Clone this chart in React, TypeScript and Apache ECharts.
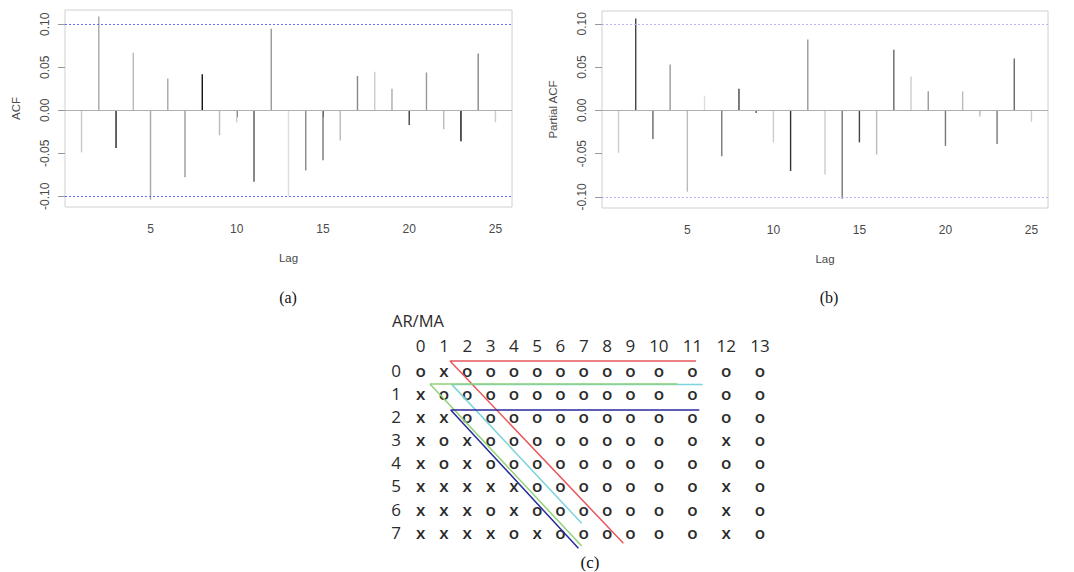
import React, { useEffect, useRef } from "react";
import * as echarts from "echarts";

// ---------- data: (a) ACF and (b) PACF ----------
const lags = [1, 2, 3, 4, 5, 6, 7, 8, 9, 10, 11, 12, 13, 14, 15, 16, 17, 18, 19, 20, 21, 22, 23, 24, 25];
const acfValues = [
  -0.049, 0.109, -0.044, 0.067, -0.104, 0.037, -0.078, 0.042, -0.029, -0.014, -0.083, 0.095, -0.1,
  -0.07, -0.058, -0.035, 0.04, 0.045, 0.025, -0.017, 0.044, -0.022, -0.036, 0.066, -0.014,
];
const pacfValues = [
  -0.049, 0.106, -0.033, 0.053, -0.094, 0.017, -0.053, 0.025, -0.003, -0.037, -0.07, 0.082, -0.074,
  -0.102, -0.037, -0.051, 0.07, 0.039, 0.022, -0.041, 0.022, -0.007, -0.039, 0.06, -0.013,
];
const confLimit = 0.1045;
const yTicks = [-0.1, -0.05, 0, 0.05, 0.1];
const lagTicks = [5, 10, 15, 20, 25];

// ---------- data: (c) EACF table ----------
const maCols = ["0", "1", "2", "3", "4", "5", "6", "7", "8", "9", "10", "11", "12", "13"];
const arRows = ["0", "1", "2", "3", "4", "5", "6", "7"];
const eacfRows = [
  "oxoooooooooooo",
  "xooooooooooooo",
  "xxoooooooooooo",
  "xoxoooooooooxo",
  "xoxooooooooooo",
  "xxxxxoooooooxo",
  "xxxoxoooooooxo",
  "xxxxoxooooooxo",
];
// pattern outlines in (fractional MA column index, fractional AR row index)
const cyanLine = [[11.3, 0.62], [1.33, 0.62], [6.91, 6.61]];
const redLine = [[11.1, -0.39], [1.26, -0.39], [8.7, 7.47]];
const greenLine = [[10.55, 0.6], [0.4, 0.6], [6.91, 7.59]];
const blueLine = [[11.2, 1.72], [1.29, 1.72], [6.77, 7.69]];

// ---------- styles ----------
const acfShades = [
  "#c8c8c8", "#a8a8a8", "#222222", "#b8b8b8", "#a8a8a8", "#a8a8a8", "#999999", "#111111", "#bbbbbb",
  "#cccccc", "#555555", "#999999", "#dddddd", "#888888", "#777777", "#bbbbbb", "#888888", "#cccccc",
  "#aaaaaa", "#444444", "#999999", "#bbbbbb", "#111111", "#888888", "#cccccc",
];
const pacfShades = [
  "#cccccc", "#444444", "#666666", "#999999", "#bbbbbb", "#dddddd", "#777777", "#444444", "#555555",
  "#cccccc", "#333333", "#999999", "#cccccc", "#777777", "#444444", "#bbbbbb", "#666666", "#cccccc",
  "#999999", "#777777", "#bbbbbb", "#bbbbbb", "#777777", "#666666", "#cccccc",
];
const lineSets = [
  { pts: cyanLine, color: "#7fd3dc" },
  { pts: redLine, color: "#e8575c" },
  { pts: greenLine, color: "#8fd27a" },
  { pts: blueLine, color: "#2a2a9c" },
];

const RFONT = "Liberation Sans";
const RCOL = "#4a4a4a";
const TFONT = "Open Sans";
const TCOL = "#2b2b2b";

// column positions from label widths (char units): gap between labels
const colX: number[] = [];
maCols.forEach((c, i) => {
  if (i === 0) colX.push(0);
  else colX.push(colX[i - 1] + (maCols[i - 1].length + c.length) / 2 + 1.24);
});
const colToX = (c: number) => {
  const i = Math.min(Math.floor(c), colX.length - 2);
  const f = c - i;
  return colX[i] + f * (colX[i + 1] - colX[i]);
};

function acfPanel(idx: number, values: number[], shades: string[], name: string, blue: string) {
  const xAxis = {
    type: "value",
    gridIndex: idx,
    min: 0.04,
    max: 25.96,
    name: "Lag",
    nameLocation: "middle",
    nameGap: 45,
    nameTextStyle: { fontFamily: RFONT, fontSize: 11.5, color: RCOL },
    axisLine: { show: false },
    splitLine: { show: false },
    axisTick: { show: true, customValues: lagTicks, length: 7, lineStyle: { color: "#555" } },
    axisLabel: {
      customValues: lagTicks,
      margin: 16,
      fontFamily: RFONT,
      fontSize: 12,
      color: RCOL,
    },
  };
  const yAxis = {
    type: "value",
    gridIndex: idx,
    min: idx === 0 ? -0.1125 : -0.1128,
    max: idx === 0 ? 0.1167 : 0.1148,
    name,
    nameLocation: "middle",
    nameGap: 43,
    nameRotate: 90,
    nameTextStyle: { fontFamily: RFONT, fontSize: 11.5, color: RCOL },
    axisLine: { show: false },
    splitLine: { show: false },
    axisTick: { show: true, customValues: yTicks, length: 7, lineStyle: { color: "#999" } },
    axisLabel: {
      customValues: yTicks,
      rotate: 90,
      margin: 14,
      fontFamily: RFONT,
      fontSize: 12,
      color: RCOL,
      formatter: (v: number) => v.toFixed(2),
    },
  };
  const series = {
    type: "bar",
    xAxisIndex: idx,
    yAxisIndex: idx,
    barWidth: 1.4,
    data: lags.map((l, i) => ({ value: [l, values[i]], itemStyle: { color: shades[i] } })),
    markLine: {
      silent: true,
      symbol: ["none", "none"],
      label: { show: false },
      animation: false,
      data: [
        { yAxis: 0, lineStyle: { color: "#b0b0b0", type: "solid", width: 1 } },
        { yAxis: confLimit, lineStyle: { color: blue, type: [2, 2], width: 1.2 } },
        { yAxis: -confLimit, lineStyle: { color: blue, type: [2, 2], width: 1.2 } },
      ],
    },
  };
  return { xAxis, yAxis, series };
}

export default function App() {
  const ref = useRef<HTMLDivElement>(null);
  useEffect(() => {
    if (!ref.current) return;
    const chart = echarts.init(ref.current, undefined, { renderer: "svg" });
    const a = acfPanel(0, acfValues, acfShades, "ACF", "#6a6aff");
    const b = acfPanel(1, pacfValues, pacfShades, "Partial ACF", "#b8b8ff");

    const unit = 10.4;
    const x0 = 420.7;
    const xMin = -1.5;
    const xMax = colX[colX.length - 1] + 1.5;
    const rowH = 23.19;

    const cells: number[][] = [];
    const cellText: string[] = [];
    eacfRows.forEach((row, r) => {
      row.split("").forEach((ch, c) => {
        cells.push([colX[c], r]);
        cellText.push(ch);
      });
    });

    const option: any = {
      animation: false,
      backgroundColor: "#ffffff",
      grid: [
        { left: 65, top: 10, width: 447, height: 197, show: true, borderColor: "#d0d0d0", borderWidth: 1, backgroundColor: "transparent", outerBoundsMode: "none" },
        { left: 602, top: 11, width: 446, height: 197, show: true, borderColor: "#d0d0d0", borderWidth: 1, backgroundColor: "transparent", outerBoundsMode: "none" },
        {
          left: x0 + xMin * unit,
          top: 370 - rowH / 2,
          width: (xMax - xMin) * unit,
          height: rowH * arRows.length,
          show: false,
          outerBoundsMode: "none",
        },
      ],
      xAxis: [
        a.xAxis,
        b.xAxis,
        {
          type: "value",
          gridIndex: 2,
          position: "top",
          min: xMin,
          max: xMax,
          axisLine: { show: false },
          axisTick: { show: false },
          splitLine: { show: false },
          axisLabel: {
            customValues: colX,
            margin: 4,
            fontFamily: TFONT,
            fontSize: 17,
            color: TCOL,
            formatter: (v: number) => {
              const i = colX.findIndex((p) => Math.abs(p - v) < 1e-6);
              return i >= 0 ? maCols[i] : "";
            },
          },
        },
      ],
      yAxis: [
        a.yAxis,
        b.yAxis,
        {
          type: "value",
          gridIndex: 2,
          inverse: true,
          min: -0.5,
          max: arRows.length - 0.5,
          axisLine: { show: false },
          axisTick: { show: false },
          splitLine: { show: false },
          axisLabel: {
            customValues: arRows.map((_, i) => i),
            margin: 4,
            fontFamily: TFONT,
            fontSize: 17,
            color: TCOL,
            formatter: (v: number) => arRows[Math.round(v)] ?? "",
          },
        },
      ],
      series: [
        a.series,
        b.series,
        {
          type: "custom",
          xAxisIndex: 2,
          yAxisIndex: 2,
          data: cells,
          renderItem: (params: any, api: any) => {
            const p = api.coord([api.value(0), api.value(1)]);
            return {
              type: "text",
              x: p[0],
              y: p[1],
              style: {
                text: cellText[params.dataIndex],
                fill: TCOL,
                fontFamily: TFONT,
                fontSize: 17,
                fontWeight: 600,
                align: "center",
                verticalAlign: "middle",
              },
            };
          },
        },
        ...lineSets.map((ls) => ({
          type: "line",
          xAxisIndex: 2,
          yAxisIndex: 2,
          clip: false,
          symbol: "none",
          silent: true,
          lineStyle: { color: ls.color, width: 1.5 },
          data: ls.pts.map((p) => [colToX(p[0]), p[1]]),
        })),
      ],
      graphic: [
        { type: "text", left: 392, top: 312, style: { text: "AR/MA", fontFamily: TFONT, fontSize: 16.5, fill: TCOL } },
        { type: "text", x: 288, y: 297, style: { text: "(a)", fontFamily: "Liberation Serif", fontSize: 16, fill: "#111", align: "center", verticalAlign: "middle" } },
        { type: "text", x: 829, y: 297, style: { text: "(b)", fontFamily: "Liberation Serif", fontSize: 16, fill: "#111", align: "center", verticalAlign: "middle" } },
        { type: "text", x: 590, y: 562, style: { text: "(c)", fontFamily: "Liberation Serif", fontSize: 17, fill: "#111", align: "center", verticalAlign: "middle" } },
      ],
    };
    chart.setOption(option);
    return () => chart.dispose();
  }, []);
  return <div ref={ref} style={{ position: "fixed", left: 0, top: 0, width: 1074, height: 572 }} />;
}
